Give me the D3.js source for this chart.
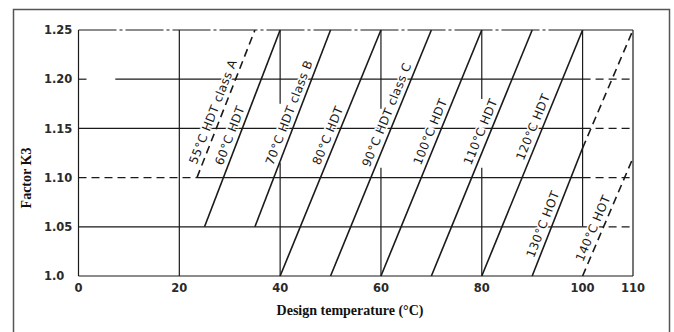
<html>
<head>
<meta charset="utf-8">
<script src="https://cdnjs.cloudflare.com/ajax/libs/d3/7.8.5/d3.min.js"></script>
<style>
  body { margin: 0; background: #fff; }
  svg { display: block; }
</style>
</head>
<body>
<div id="chart"></div>
<script>

// ---- data ----
var xTicks = [0, 20, 40, 60, 80, 100, 110];
var yTicks = [1.0, 1.05, 1.10, 1.15, 1.20, 1.25];
var yTickLabels = ["1.0", "1.05", "1.10", "1.15", "1.20", "1.25"];

// HDT lines: start (x0,k0) to end (x1,k1)
var hdtNames = ["55°C HDT class A", "60°C HDT", "70°C HDT class B", "80°C HDT", "90°C HDT class C",
                "100°C HDT", "110°C HDT", "120°C HDT", "130°C HOT", "140°C HOT"];
var hdtX0 = [23.5, 25, 35, 40, 50, 60, 70, 80, 90, 100];
var hdtK0 = [1.10, 1.05, 1.05, 1.0, 1.0, 1.0, 1.0, 1.0, 1.0, 1.0];
var hdtX1 = [35, 40, 50, 60, 70, 80, 90, 100, 100, 110];
var hdtK1 = [1.25, 1.25, 1.25, 1.25, 1.25, 1.25, 1.25, 1.25, 1.13, 1.12];
var hdtDashed = [true, false, false, false, false, false, false, false, false, true];
// K3 where each label text begins
var hdtLabelK = [1.111, 1.11, 1.11, 1.11, 1.108, 1.11, 1.11, 1.115, 1.016, 1.012];

// dashed continuation of the 130 line past 100 °C
var extX = [100, 110];
var extK = [1.13, 1.25];

// grid pieces [k, xFrom, xTo] and [x, kFrom, kTo]
var hSolid = [[1.20, 7.3, 100], [1.15, 0, 100], [1.10, 23.5, 100], [1.05, 0, 100], [1.0, 0, 110], [1.25, 100, 110]];
var hDashed = [[1.20, 0, 2], [1.20, 100, 110], [1.15, 100, 110], [1.10, 0, 23.5], [1.10, 100, 110], [1.05, 100, 110]];
var hChain = [[1.25, 0, 100]];
var vSolid = [[0, 1.0, 1.25], [20, 1.0, 1.25], [40, 1.0, 1.115], [40, 1.175, 1.25], [60, 1.0, 1.11], [60, 1.17, 1.25],
              [80, 1.0, 1.11], [80, 1.18, 1.25], [100, 1.05, 1.25], [110, 1.0, 1.25]];

// ---- drawing ----
var W = 674, H = 332;
var ink = "#1a1a1a";

var svg = d3.select("#chart").append("svg")
	.attr("width", W)
	.attr("height", H);

svg.append("rect")
	.attr("width", W).attr("height", H)
	.attr("fill", "#fff");

// outer frame
svg.append("rect")
	.attr("x", 13.5).attr("y", 9.5)
	.attr("width", 656).attr("height", 340)
	.attr("fill", "none")
	.attr("stroke", "#555")
	.attr("stroke-width", 1.5);

var x = d3.scaleLinear().domain([0, 110]).range([78.5, 633]);
var y = d3.scaleLinear().domain([1.0, 1.25]).range([276, 30]);

var grid = svg.append("g")
	.attr("stroke", ink)
	.attr("stroke-width", 1.2)
	.attr("fill", "none");

grid.selectAll(".hs").data(hSolid).enter().append("line")
	.attr("x1", function(d){ return x(d[1]); })
	.attr("x2", function(d){ return x(d[2]); })
	.attr("y1", function(d){ return y(d[0]); })
	.attr("y2", function(d){ return y(d[0]); });

grid.selectAll(".hd").data(hDashed).enter().append("line")
	.attr("x1", function(d){ return x(d[1]); })
	.attr("x2", function(d){ return x(d[2]); })
	.attr("y1", function(d){ return y(d[0]); })
	.attr("y2", function(d){ return y(d[0]); })
	.attr("stroke-dasharray", "8,5");

grid.selectAll(".hc").data(hChain).enter().append("line")
	.attr("x1", function(d){ return x(d[1]); })
	.attr("x2", function(d){ return x(d[2]); })
	.attr("y1", function(d){ return y(d[0]); })
	.attr("y2", function(d){ return y(d[0]); })
	.attr("stroke-dasharray", "38,3,3,3");

grid.selectAll(".vs").data(vSolid).enter().append("line")
	.attr("x1", function(d){ return x(d[0]); })
	.attr("x2", function(d){ return x(d[0]); })
	.attr("y1", function(d){ return y(d[1]); })
	.attr("y2", function(d){ return y(d[2]); });

// HDT lines
var hdt = hdtNames.map(function(n, i){
	return { name: n, x0: hdtX0[i], k0: hdtK0[i], x1: hdtX1[i], k1: hdtK1[i], dashed: hdtDashed[i], lk: hdtLabelK[i] };
});

var lines = svg.append("g")
	.attr("stroke", ink)
	.attr("stroke-width", 1.6)
	.attr("fill", "none");

lines.selectAll("line").data(hdt).enter().append("line")
	.attr("x1", function(d){ return x(d.x0); })
	.attr("y1", function(d){ return y(d.k0); })
	.attr("x2", function(d){ return x(d.x1); })
	.attr("y2", function(d){ return y(d.k1); })
	.attr("stroke-dasharray", function(d){ return d.dashed ? "8,5" : null; });

lines.append("line")
	.attr("x1", x(extX[0])).attr("y1", y(extK[0]))
	.attr("x2", x(extX[1])).attr("y2", y(extK[1]))
	.attr("stroke-dasharray", "8,5");

// labels along the lines, a little to the upper-left side
var off = 5;
var labels = svg.append("g")
	.attr("font-family", "'DejaVu Sans', sans-serif")
	.attr("font-size", "12px")
	.attr("letter-spacing", "0.4px")
	.attr("fill", ink);

hdt.forEach(function(d){
	var px0 = x(d.x0), py0 = y(d.k0), px1 = x(d.x1), py1 = y(d.k1);
	var len = Math.hypot(px1 - px0, py1 - py0);
	var ux = (px1 - px0) / len, uy = (py1 - py0) / len;
	var ang = Math.atan2(uy, ux) * 180 / Math.PI;
	var t = (d.lk - d.k0) / (d.k1 - d.k0);
	var sx = px0 + t * (px1 - px0) + uy * off;
	var sy = py0 + t * (py1 - py0) - ux * off;
	labels.append("text")
		.attr("transform", "translate(" + sx + "," + sy + ") rotate(" + ang + ")")
		.attr("stroke", "#fff")
		.attr("stroke-width", 3)
		.attr("paint-order", "stroke")
		.text(d.name);
});

// tick labels
var tickFont = "'DejaVu Sans', sans-serif";

svg.append("g").selectAll("text").data(yTicks).enter().append("text")
	.attr("x", 44)
	.attr("y", function(d){ return y(d); })
	.attr("dy", "0.36em")
	.attr("font-family", tickFont)
	.attr("font-weight", "bold")
	.attr("font-size", "11.5px")
	.attr("fill", "#2a2a2a")
	.text(function(d, i){ return yTickLabels[i]; });

svg.append("g").selectAll("text").data(xTicks).enter().append("text")
	.attr("x", function(d){ return x(d); })
	.attr("y", 292)
	.attr("text-anchor", "middle")
	.attr("font-family", tickFont)
	.attr("font-weight", "bold")
	.attr("font-size", "11.5px")
	.attr("fill", "#2a2a2a")
	.text(function(d){ return d; });

// axis titles
svg.append("text")
	.attr("x", 350).attr("y", 315)
	.attr("text-anchor", "middle")
	.attr("font-family", "'Liberation Serif', 'Times New Roman', serif")
	.attr("font-weight", "bold")
	.attr("font-size", "14px")
	.attr("fill", "#111")
	.text("Design temperature (°C)");

svg.append("text")
	.attr("transform", "translate(31,178) rotate(-90)")
	.attr("text-anchor", "middle")
	.attr("font-family", "'Liberation Serif', 'Times New Roman', serif")
	.attr("font-weight", "bold")
	.attr("font-size", "14px")
	.attr("fill", "#111")
	.text("Factor K3");

</script>
</body>
</html>
